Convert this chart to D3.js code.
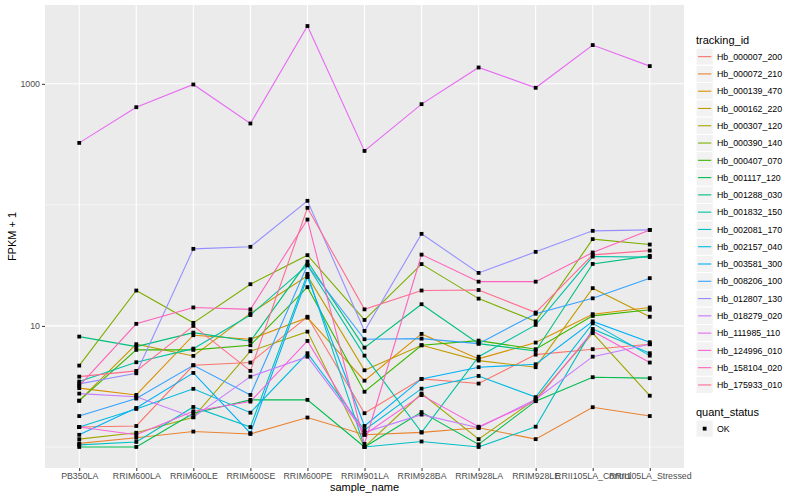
<!DOCTYPE html>
<html>
<head>
<meta charset="utf-8">
<script src="https://cdn.jsdelivr.net/npm/d3@7"></script>
<style>
  body { margin: 0; background: #fff; }
  text { font-family: "Liberation Sans", Arial, sans-serif; }
</style>
</head>
<body>
<div id="chart"></div>
<script>
// samples on the x axis
const samples = ['PB350LA', 'RRIM600LA', 'RRIM600LE', 'RRIM600SE', 'RRIM600PE', 'RRIM901LA',
    'RRIM928BA', 'RRIM928LA', 'RRIM928LE', 'RRII105LA_Control', 'RRII105LA_Stressed'];

const trackingIds = ['Hb_000007_200', 'Hb_000072_210', 'Hb_000139_470', 'Hb_000162_220', 'Hb_000307_120',
    'Hb_000390_140', 'Hb_000407_070', 'Hb_001117_120', 'Hb_001288_030', 'Hb_001832_150',
    'Hb_002081_170', 'Hb_002157_040', 'Hb_003581_300', 'Hb_008206_100', 'Hb_012807_130',
    'Hb_018279_020', 'Hb_111985_110', 'Hb_124996_010', 'Hb_158104_020', 'Hb_175933_010'];

// FPKM + 1, one array per tracking id (same order as samples)
const hb000007 = [1.46, 1.49, 4.73, 4.98, 11.9, 1.90, 3.65, 3.34, 5.79, 6.42, 7.06];
const hb000072 = [1.07, 1.19, 1.34, 1.28, 1.75, 1.26, 1.32, 1.44, 1.16, 2.13, 1.80];
const hb000139 = [3.06, 2.69, 8.38, 7.76, 11.7, 3.53, 8.59, 5.34, 7.28, 12.5, 14.2];
const hb000162 = [2.41, 7.06, 5.65, 12.7, 25.9, 4.30, 6.92, 5.17, 4.56, 20.5, 11.9];
const hb000307 = [1.16, 1.31, 1.76, 6.18, 8.97, 1.00, 2.76, 1.16, 2.48, 8.71, 2.65];
const hb000390 = [4.70, 19.6, 10.6, 22.1, 38.4, 11.2, 32.4, 16.8, 10.9, 52.1, 47.0];
const hb000407 = [2.41, 6.34, 6.34, 6.92, 20.9, 2.86, 6.92, 7.56, 6.42, 12.1, 13.6];
const hb001117 = [1.00, 1.00, 1.90, 2.45, 2.45, 1.00, 1.94, 1.05, 2.39, 3.77, 3.70];
const hb001288 = [8.16, 6.74, 8.80, 7.47, 34.0, 6.62, 15.1, 7.14, 6.21, 32.5, 37.9];
const hb001832 = [3.47, 5.01, 6.49, 12.3, 31.7, 5.68, 1.32, 5.57, 10.2, 37.4, 37.0];
const hb002081 = [1.04, 1.10, 2.14, 1.46, 26.9, 1.00, 1.11, 1.00, 1.47, 9.44, 5.95];
const hb002157 = [1.46, 2.06, 3.02, 1.92, 5.95, 1.38, 3.03, 3.86, 2.58, 10.5, 5.68];
const hb003581 = [1.26, 2.10, 4.09, 1.30, 25.3, 1.49, 3.65, 4.56, 4.82, 10.9, 7.33];
const hb008206 = [1.80, 2.51, 4.73, 2.69, 31.7, 7.76, 7.85, 7.14, 12.6, 16.9, 24.8];
const hb012807 = [3.32, 4.06, 43.3, 45.0, 108, 9.09, 57.6, 27.4, 40.9, 61.0, 62.1];
const hb018279 = [2.76, 2.60, 1.76, 3.81, 5.57, 1.32, 1.85, 1.44, 2.48, 5.57, 7.06];
const hb111985 = [325, 641, 987, 470, 3000, 279, 679, 1364, 927, 2089, 1400];
const hb124996 = [1.46, 1.26, 1.97, 2.37, 7.52, 1.26, 2.68, 1.47, 2.39, 9.04, 4.98];
const hb158104 = [3.19, 10.4, 14.2, 13.7, 75.6, 1.06, 38.8, 23.2, 23.2, 40.4, 62.1];
const hb175933 = [3.81, 4.25, 10.0, 4.25, 94.5, 13.7, 19.6, 19.8, 12.9, 38.6, 41.9];

const seriesValues = [hb000007, hb000072, hb000139, hb000162, hb000307, hb000390, hb000407,
    hb001117, hb001288, hb001832, hb002081, hb002157, hb003581, hb008206, hb012807,
    hb018279, hb111985, hb124996, hb158104, hb175933];

const colors = ['#F8766D', '#EA8331', '#D89000', '#C09B00', '#A3A500', '#7CAE00', '#39B600',
    '#00BB4E', '#00BF7D', '#00C1A3', '#00BFC4', '#00BAE0', '#00B0F6', '#35A2FF', '#9590FF',
    '#C77CFF', '#E76BF3', '#FA62DB', '#FF62BC', '#FF6C91'];

const yMajor = [10, 1000];
const yMinor = [1, 100];
const quantStatus = ['OK'];

const series = trackingIds.map((id, i) => ({
    id: id,
    color: colors[i],
    points: samples.map((s, j) => ({ sample: s, value: seriesValues[i][j] }))
}));

const W = 800, H = 500;
const panel = { left: 45, right: 684, top: 5, bottom: 468 };

const svg = d3.select('#chart')
    .append('svg')
    .attr('width', W)
    .attr('height', H);

const x = d3.scalePoint()
    .domain(samples)
    .range([panel.left, panel.right])
    .padding(0.6);

// log range with ggplot's 5% expansion
const allVals = seriesValues.flat();
const lo = Math.log10(d3.min(allVals)), hi = Math.log10(d3.max(allVals));
const pad = (hi - lo) * 0.05;
const y = d3.scaleLog()
    .domain([Math.pow(10, lo - pad), Math.pow(10, hi + pad)])
    .range([panel.bottom, panel.top]);

// panel background
svg.append('rect')
    .attr('x', panel.left)
    .attr('y', panel.top)
    .attr('width', panel.right - panel.left)
    .attr('height', panel.bottom - panel.top)
    .attr('fill', '#EBEBEB');

const grid = svg.append('g');
grid.selectAll('.ymin').data(yMinor).enter()
    .append('line')
    .attr('x1', panel.left).attr('x2', panel.right)
    .attr('y1', d => y(d)).attr('y2', d => y(d))
    .attr('stroke', '#fff').attr('stroke-width', 0.55);
grid.selectAll('.ymaj').data(yMajor).enter()
    .append('line')
    .attr('x1', panel.left).attr('x2', panel.right)
    .attr('y1', d => y(d)).attr('y2', d => y(d))
    .attr('stroke', '#fff').attr('stroke-width', 1.1);
grid.selectAll('.xmaj').data(samples).enter()
    .append('line')
    .attr('y1', panel.top).attr('y2', panel.bottom)
    .attr('x1', d => x(d)).attr('x2', d => x(d))
    .attr('stroke', '#fff').attr('stroke-width', 1.1);

// lines
const line = d3.line()
    .x(d => x(d.sample))
    .y(d => y(d.value));

svg.append('g')
    .selectAll('path')
    .data(series)
    .enter()
    .append('path')
    .attr('d', d => line(d.points))
    .attr('fill', 'none')
    .attr('stroke', d => d.color)
    .attr('stroke-width', 1.1);

// points
svg.append('g')
    .selectAll('rect')
    .data(series.flatMap(s => s.points))
    .enter()
    .append('rect')
    .attr('x', d => x(d.sample) - 1.9)
    .attr('y', d => y(d.value) - 1.9)
    .attr('width', 3.8)
    .attr('height', 3.8)
    .attr('fill', '#000');

// axes
const xAxis = svg.append('g')
    .attr('transform', `translate(0,${panel.bottom})`)
    .call(d3.axisBottom(x).tickSize(3).tickPadding(2));
const yAxis = svg.append('g')
    .attr('transform', `translate(${panel.left},0)`)
    .call(d3.axisLeft(y).tickValues(yMajor).tickSize(3).tickPadding(2).tickFormat(d3.format('d')));

[xAxis, yAxis].forEach(a => {
    a.select('.domain').remove();
    a.selectAll('.tick line').attr('stroke', '#333').attr('stroke-width', 1);
    a.selectAll('.tick text')
        .attr('fill', '#4D4D4D')
        .style('font-size', '8.8px')
        .style('font-family', '"Liberation Sans", Arial, sans-serif');
});

svg.append('text')
    .attr('x', (panel.left + panel.right) / 2)
    .attr('y', 491)
    .attr('text-anchor', 'middle')
    .style('font-size', '11px')
    .text('sample_name');

svg.append('text')
    .attr('transform', `translate(16,${(panel.top + panel.bottom) / 2}) rotate(-90)`)
    .attr('text-anchor', 'middle')
    .style('font-size', '11px')
    .text('FPKM + 1');

// legend: tracking_id
const legend = svg.append('g').attr('transform', 'translate(696,0)');
legend.append('text')
    .attr('x', 0).attr('y', 44)
    .style('font-size', '11px')
    .text('tracking_id');

const keyH = 17.28;
const keys = legend.selectAll('.key')
    .data(series)
    .enter()
    .append('g')
    .attr('transform', (d, i) => `translate(0,${48 + i * keyH})`);
keys.append('rect')
    .attr('width', 17.28).attr('height', keyH)
    .attr('fill', '#F2F2F2').attr('stroke', '#fff').attr('stroke-width', 1);
keys.append('line')
    .attr('x1', 2).attr('x2', 15.3)
    .attr('y1', keyH / 2).attr('y2', keyH / 2)
    .attr('stroke', d => d.color).attr('stroke-width', 1.1);
keys.append('text')
    .attr('x', 21).attr('y', keyH / 2 + 3.2)
    .style('font-size', '8.8px')
    .text(d => d.id);

// legend: quant_status
const legend2 = svg.append('g').attr('transform', 'translate(696,0)');
legend2.append('text')
    .attr('x', 0).attr('y', 416)
    .style('font-size', '11px')
    .text('quant_status');
const k2 = legend2.selectAll('.k2')
    .data(quantStatus)
    .enter()
    .append('g')
    .attr('transform', (d, i) => `translate(0,${420 + i * keyH})`);
k2.append('rect')
    .attr('width', 17.28).attr('height', keyH)
    .attr('fill', '#F2F2F2').attr('stroke', '#fff').attr('stroke-width', 1);
k2.append('rect')
    .attr('x', 8.64 - 1.9).attr('y', keyH / 2 - 1.9)
    .attr('width', 3.8).attr('height', 3.8)
    .attr('fill', '#000');
k2.append('text')
    .attr('x', 21).attr('y', keyH / 2 + 3.2)
    .style('font-size', '8.8px')
    .text(d => d);
</script>
</body>
</html>
